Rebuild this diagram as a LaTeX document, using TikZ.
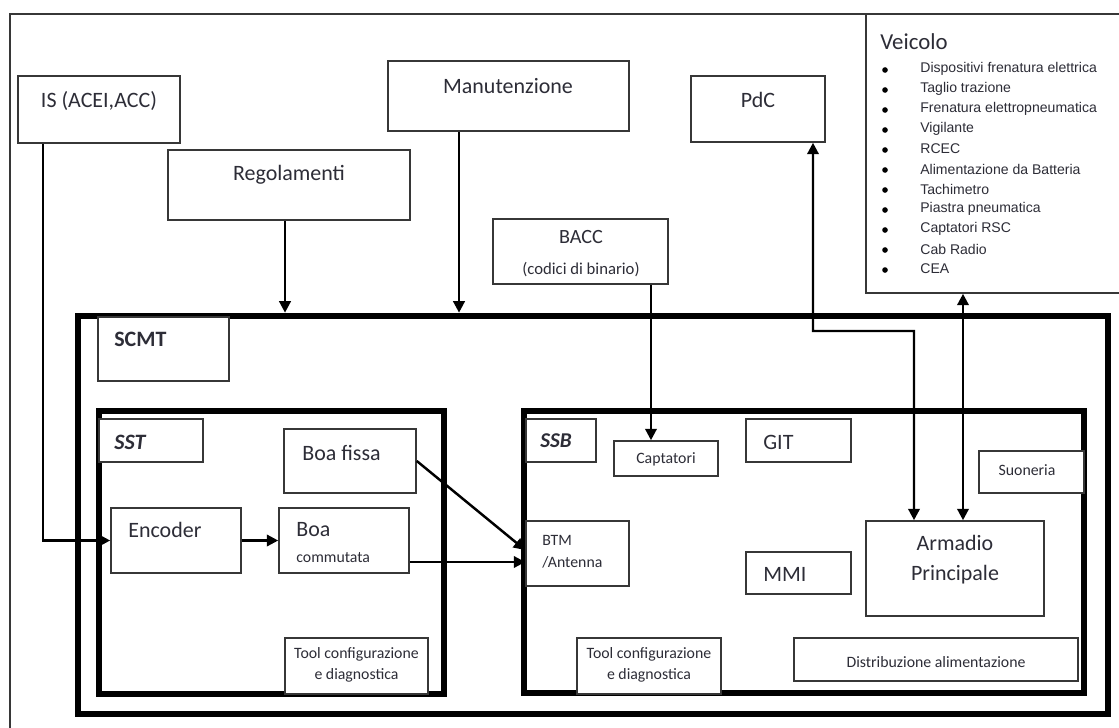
\documentclass[tikz,border=0pt]{standalone}
\usepackage{fontspec}
\setmainfont{Carlito}
\newfontfamily\arialfont{Liberation Sans}
\usetikzlibrary{fit,arrows.meta}
\definecolor{textdark}{RGB}{45,45,55}
\definecolor{linedark}{RGB}{55,55,55}
\newcommand{\bigsize}{\fontsize{12.5}{15}\selectfont}
\newcommand{\smallsize}{\fontsize{9}{12}\selectfont}

\tikzset{
  blk/.style={draw=linedark, line width=0.9pt, fill=white, inner sep=0pt},
  sysframe/.style={draw=black, line width=3.8pt, inner sep=0pt},
  lbl/.style={text=textdark, font=\bigsize, inner sep=0pt},
  smalltxt/.style={text=textdark, font=\smallsize, inner sep=0pt},
  listtxt/.style={text=textdark, font=\arialfont\fontsize{8}{10}\selectfont, inner sep=0pt},
  dot/.style={circle, fill=black, inner sep=0pt, minimum size=3.2pt},
  arr/.style={line width=1.4pt, -{Triangle[length=6.5pt,width=6.5pt]}},
  biarr/.style={line width=1.4pt, {Triangle[length=6.5pt,width=6.5pt]}-{Triangle[length=6.5pt,width=6.5pt]}},
}

\begin{document}
\begin{tikzpicture}[x=0.02cm, y=-0.02cm]
  \useasboundingbox (0,0) rectangle (1119,727);

  % page border
  \draw[linedark, line width=0.9pt] (10,740) -- (10,14) -- (1130,14);

  % system frames
  \node[sysframe, fit={(78,316) (1108,714)}] (scmt) {};
  \node[sysframe, fit={(99,411) (444,694)}] (sst) {};
  \node[sysframe, fit={(524,411) (1084,693)}] (ssb) {};

  % external blocks
  \node[blk, fit={(18,76) (180,143)}] (is) {};
  \node[blk, fit={(168,150) (410,220)}] (reg) {};
  \node[blk, fit={(388,61) (629,131)}] (man) {};
  \node[blk, fit={(493,219) (668,284)}] (bacc) {};
  \node[blk, fit={(691,76) (825,142)}] (pdc) {};
  \node[blk, fit={(866,14) (1130,293)}] (veic) {};

  % SCMT / SST
  \node[blk, fit={(98,317) (229,381)}] (scmt-lbl) {};
  \node[blk, fit={(99,419) (203,462)}] (sst-lbl) {};
  \node[blk, fit={(284,429) (416,493)}] (bfissa) {};
  \node[blk, fit={(111,508) (241,573)}] (enc) {};
  \node[blk, fit={(279,508) (409,573)}] (bcomm) {};
  \node[blk, fit={(285,638) (428,694)}] (sst-tool) {};

  % SSB
  \node[blk, fit={(526,419) (596,462)}] (ssb-lbl) {};
  \node[blk, fit={(614,441) (718,476)}] (capt) {};
  \node[blk, fit={(746,419) (851,462)}] (git) {};
  \node[blk, fit={(979,451) (1084,493)}] (suon) {};
  \node[blk, fit={(526,521) (629,586)}] (btm) {};
  \node[blk, fit={(746,552) (851,594)}] (mmi) {};
  \node[blk, fit={(866,521) (1044,616)}] (arm) {};
  \node[blk, fit={(577,638) (721,694)}] (ssb-tool) {};
  \node[blk, fit={(794,638) (1078,681)}] (distr) {};

  % labels
  \node[lbl] (is-t) at (99,101) {IS (ACEI,ACC)};
  \node[lbl] (reg-t) at (289,175) {Regolamenti};
  \node[lbl] (man-t) at (508,86) {Manutenzione};
  \node[lbl] (pdc-t) at (758,100) {PdC};
  \node[lbl, font=\fontsize{11.5}{14}\selectfont] (bacc-t) at (581,237) {BACC};
  \node[smalltxt, font=\fontsize{9.5}{12}\selectfont] (bacc-s) at (581,270) {(codici di binario)};
  \node[lbl, anchor=west, font=\fontsize{13}{15}\selectfont] (veic-t) at (880,42) {Veicolo};
  \foreach \entry [count=\i from 0] in {Dispositivi frenatura elettrica, Taglio trazione,
      Frenatura  elettropneumatica, Vigilante, RCEC, Alimentazione da Batteria, Tachimetro,
      Piastra pneumatica, Captatori RSC, Cab Radio, CEA} {
    \node[dot] (veic-b\i) at (885,70+20*\i) {};
    \node[listtxt, anchor=west] (veic-\i) at (920,69+20*\i) {\entry};
  }

  \node[lbl, anchor=west, font=\bigsize\bfseries] (scmt-t) at (114,339) {SCMT};
  \node[lbl, anchor=west, font=\bigsize\bfseries\itshape] (sst-t) at (114,442) {SST};
  \node[lbl, anchor=west] (bfissa-t) at (302,453) {Boa fissa};
  \node[lbl, anchor=west] (enc-t) at (128,530) {Encoder};
  \node[lbl, anchor=west] (bcomm-t) at (296,530) {Boa};
  \node[smalltxt, anchor=west] (bcomm-s) at (296,558) {commutata};
  \node[smalltxt, align=center] (sst-tool-t) at (356.5,665) {Tool configurazione\\e diagnostica};

  \node[lbl, anchor=west, font=\fontsize{12}{14}\selectfont\bfseries\itshape] (ssb-t) at (540,441) {SSB};
  \node[smalltxt] (capt-t) at (666,459) {Captatori};
  \node[lbl, anchor=west] (git-t) at (763,442) {GIT};
  \node[smalltxt] (suon-t) at (1027,470) {Suoneria};
  \node[smalltxt, anchor=west] (btm-t) at (542,540) {BTM};
  \node[smalltxt, anchor=west] (btm-s) at (542,562) {/Antenna};
  \node[lbl, anchor=west] (mmi-t) at (763,574) {MMI};
  \node[lbl] (arm-t) at (955,543) {Armadio};
  \node[lbl] (arm-s) at (955,575) {Principale};
  \node[smalltxt, align=center] (ssb-tool-t) at (649,665) {Tool configurazione\\e diagnostica};
  \node[smalltxt] (distr-t) at (936,662) {Distribuzione alimentazione};

  % connections
  \coordinate (pdc-bend) at (914,331);
  \draw[arr] ([xshift=-0.08cm]reg.south) -- ([xshift=-0.08cm]reg.south |- scmt.north);
  \draw[arr] ([xshift=-0.99cm]man.south) -- ([xshift=-0.99cm]man.south |- scmt.north);
  \draw[arr] ([xshift=1.41cm]bacc.south) -- ([xshift=1.41cm]bacc.south |- capt.north);
  \draw[arr] ([xshift=0.52cm]is.south west) |- (enc.west);
  \draw[arr] (enc.east) -- (bcomm.west);
  \draw[arr] (bfissa.east) -- ([yshift=0.07cm]btm.west);
  \draw[arr] ([yshift=-0.43cm]bcomm.east) -- ([yshift=-0.43cm]bcomm.east -| btm.west);
  \draw[biarr] ([xshift=1.1cm]pdc.south) |- (pdc-bend) -- ([xshift=-0.82cm]arm.north);
  \draw[biarr] ([xshift=0.16cm]arm.north) -- ([xshift=0.16cm]arm.north |- veic.south);
\end{tikzpicture}
\end{document}
